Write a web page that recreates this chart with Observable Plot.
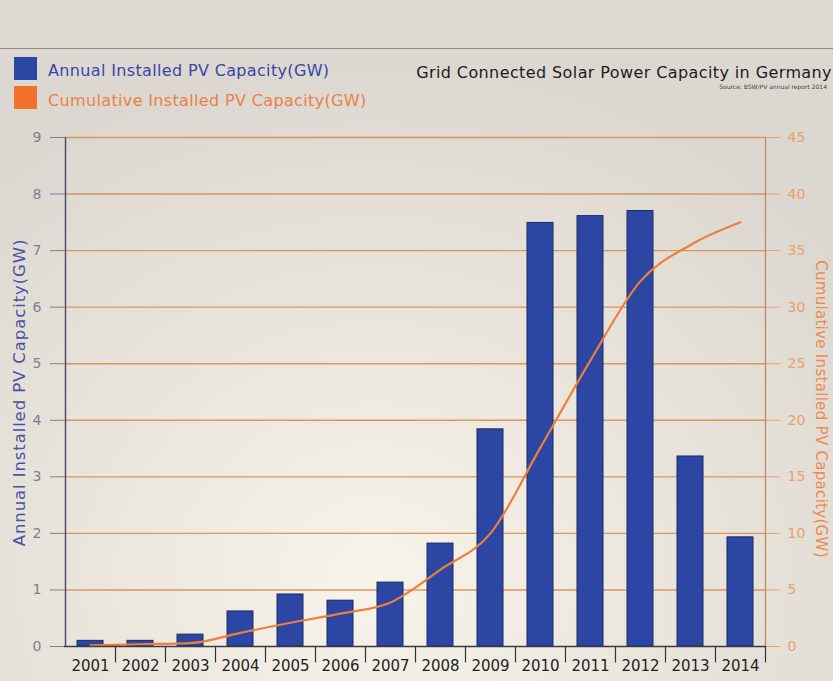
<!DOCTYPE html>
<html>
<head>
<meta charset="utf-8">
<script src="https://cdn.jsdelivr.net/npm/d3@7"></script>
<script src="https://cdn.jsdelivr.net/npm/@observablehq/plot@0.6"></script>
<style>
  html, body { margin: 0; padding: 0; }
  body {
    width: 833px; height: 681px; position: relative; overflow: hidden;
    font-family: "DejaVu Sans", Verdana, sans-serif;
    background: radial-gradient(ellipse 70% 75% at 45% 85%, #f8f4ea 0%, #ece7dd 45%, #dcd8d1 100%);
  }
  #topband { position: absolute; left: 0; top: 0; width: 833px; height: 48px; background: #ddd8d0; border-bottom: 1.5px solid #8e8c88; }
  .sw { position: absolute; left: 14px; width: 23px; height: 23px; }
  .lg { position: absolute; left: 48px; font-size: 16px; letter-spacing: 0.35px; white-space: nowrap; }
  #title { position: absolute; right: 1px; top: 63px; font-size: 16px; letter-spacing: 0.4px; color: #1c1c1c; white-space: nowrap; }
  #source { position: absolute; right: 6px; top: 83px; font-size: 6px; color: #444; white-space: nowrap; }
  .ytitle { position: absolute; white-space: nowrap; }
  #chart { position: absolute; left: 0; top: 110px; }
</style>
</head>
<body>
<div id="topband"></div>
<div class="sw" style="top:57px;background:#2b47a3"></div>
<div class="lg" style="top:61px;color:#3a44a8">Annual Installed PV Capacity(GW)</div>
<div class="sw" style="top:86px;background:#f0702c"></div>
<div class="lg" style="top:91px;color:#ec7f44">Cumulative Installed PV Capacity(GW)</div>
<div id="title">Grid Connected Solar Power Capacity in Germany</div>
<div id="source">Source: BSW/PV annual report 2014</div>
<div class="ytitle" id="ltitle" style="color:#4a52a8;font-size:16.5px;letter-spacing:0.9px;">Annual Installed PV Capacity(GW)</div>
<div class="ytitle" id="rtitle" style="color:#ec8a50;font-size:15px;letter-spacing:0.3px;">Cumulative Installed PV Capacity(GW)</div>
<div id="chart"></div>
<script>
const years = ["2001","2002","2003","2004","2005","2006","2007","2008","2009","2010","2011","2012","2013","2014"];
const annualGW = [0.1, 0.1, 0.21, 0.62, 0.92, 0.81, 1.13, 1.82, 3.84, 7.49, 7.61, 7.70, 3.36, 1.93];
const cumulativeGW = [0.1, 0.2, 0.3, 1.2, 2.1, 2.9, 3.9, 6.8, 10.0, 17.6, 25.3, 32.3, 35.5, 37.5];
const leftTicks = [0, 1, 2, 3, 4, 5, 6, 7, 8, 9];
const rightTicks = [0, 5, 10, 15, 20, 25, 30, 35, 40, 45];
const ratio = 5; // right axis GW per left axis GW

const rows = years.map((y, i) => ({year: y, annual: annualGW[i], cum: cumulativeGW[i]}));

const W = 833, H = 571;
const chart = Plot.plot({
  width: W, height: H,
  marginLeft: 64, marginRight: 68, marginTop: 27, marginBottom: 35,
  style: {background: "transparent", fontFamily: "DejaVu Sans, sans-serif", overflow: "visible"},
  x: {domain: years, paddingInner: 0.48, paddingOuter: 0.24, label: null},
  y: {domain: [0, 9], label: null},
  marks: [
    Plot.gridY({ticks: leftTicks.slice(1), stroke: "#dc8c50", strokeOpacity: 0.9, strokeWidth: 1.4}),
    Plot.barY(rows, {x: "year", y: "annual", fill: "#2b47a3", stroke: "#1b2a66", strokeWidth: 1}),
    Plot.line(rows, {x: "year", y: d => d.cum / ratio, curve: "monotone-x", stroke: "#ee7f3a", strokeWidth: 2.2}),
    Plot.ruleY([0], {stroke: "#3a3a44", strokeWidth: 1.3}),
    Plot.ruleX([years[0]], {y1: 0, y2: 9, dx: -25, stroke: "#4c5068", strokeWidth: 1.5}),
    Plot.ruleX([years[years.length - 1]], {y1: 0, y2: 9, dx: 25, stroke: "#b8865a", strokeWidth: 1.2}),
    Plot.axisY({anchor: "left", ticks: leftTicks, tickSize: 14, tickPadding: 9, fontSize: 14, color: "#7a7f92", label: null}),
    Plot.axisY({anchor: "right", ticks: rightTicks.map(v => v / ratio), tickFormat: d => String(Math.round(d * ratio)), tickSize: 14, tickPadding: 8, fontSize: 14, color: "#e8a070", label: null}),
    Plot.axisX({anchor: "bottom", tickSize: 0, tickPadding: 14, fontSize: 15, color: "#1e1e1e", label: null}),
    Plot.ruleX(years, {x: d => d, dx: 25, y1: 0, y2: -0.29, stroke: "#333", strokeWidth: 1.2})
  ]
});
document.getElementById("chart").appendChild(chart);

// rotated axis titles
const lt = document.getElementById("ltitle");
const lw = lt.offsetWidth, lh = lt.offsetHeight;
lt.style.left = (20 - lw / 2) + "px";
lt.style.top = (392 - lh / 2) + "px";
lt.style.transform = "rotate(-90deg)";
const rt = document.getElementById("rtitle");
const rw = rt.offsetWidth, rh = rt.offsetHeight;
rt.style.left = (821 - rw / 2) + "px";
rt.style.top = (409 - rh / 2) + "px";
rt.style.transform = "rotate(90deg)";
</script>
</body>
</html>
